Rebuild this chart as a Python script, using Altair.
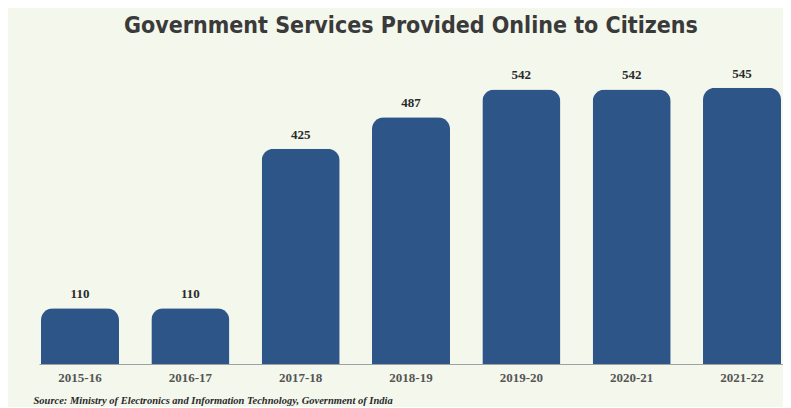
import altair as alt
import pandas as pd

years = ["2015-16", "2016-17", "2017-18", "2018-19", "2019-20", "2020-21", "2021-22"]
services = [110, 110, 425, 487, 542, 542, 545]

title_text = "Government Services Provided Online to Citizens"
source_text = "Source: Ministry of Electronics and Information Technology, Government of India"

df = pd.DataFrame({"year": years, "services": services})

bg = "#f3f7ec"
bar_color = "#2d5588"

x_enc = alt.X(
    "year:N",
    sort=years,
    scale=alt.Scale(paddingInner=0.293, paddingOuter=0.018),
    axis=alt.Axis(
        title=source_text,
        titleFont="Liberation Serif",
        titleFontStyle="italic",
        titleFontWeight="bold",
        titleFontSize=10.5,
        titleColor="#2a2a2a",
        titleAnchor="start",
        titleAlign="left",
        titleX=-6,
        titlePadding=11,
        labelAngle=0,
        labelFont="Liberation Serif",
        labelFontWeight="bold",
        labelFontSize=13,
        labelColor="#555555",
        labelPadding=7,
        ticks=False,
        domainColor="#a0a0a0",
        domainWidth=1.2,
    ),
)
y_enc = alt.Y("services:Q", scale=alt.Scale(domain=[0, 600]), axis=None)

bars = alt.Chart(df).mark_bar(
    color=bar_color, cornerRadiusTopLeft=12, cornerRadiusTopRight=12
).encode(x=x_enc, y=y_enc)

labels = alt.Chart(df).mark_text(
    dy=-14, font="Liberation Serif", fontWeight="bold", fontSize=13, color="#2a2a2a"
).encode(x=alt.X("year:N", sort=years), y="services:Q", text="services:Q")

chart = (
    alt.layer(bars, labels)
    .properties(
        width=744,
        height=304,
        background=bg,
        padding={"left": 25, "right": 0, "top": 7, "bottom": 1},
        title=alt.TitleParams(
            title_text,
            font="Liberation Sans Narrow, DejaVu Sans Condensed, sans-serif",
            fontSize=23,
            fontWeight="bold",
            color="#3a3a3a",
            anchor="middle",
            offset=22,
        ),
    )
    .configure_view(stroke=None)
)

chart.save("out.html", embed_options={"renderer": "svg", "actions": False})
